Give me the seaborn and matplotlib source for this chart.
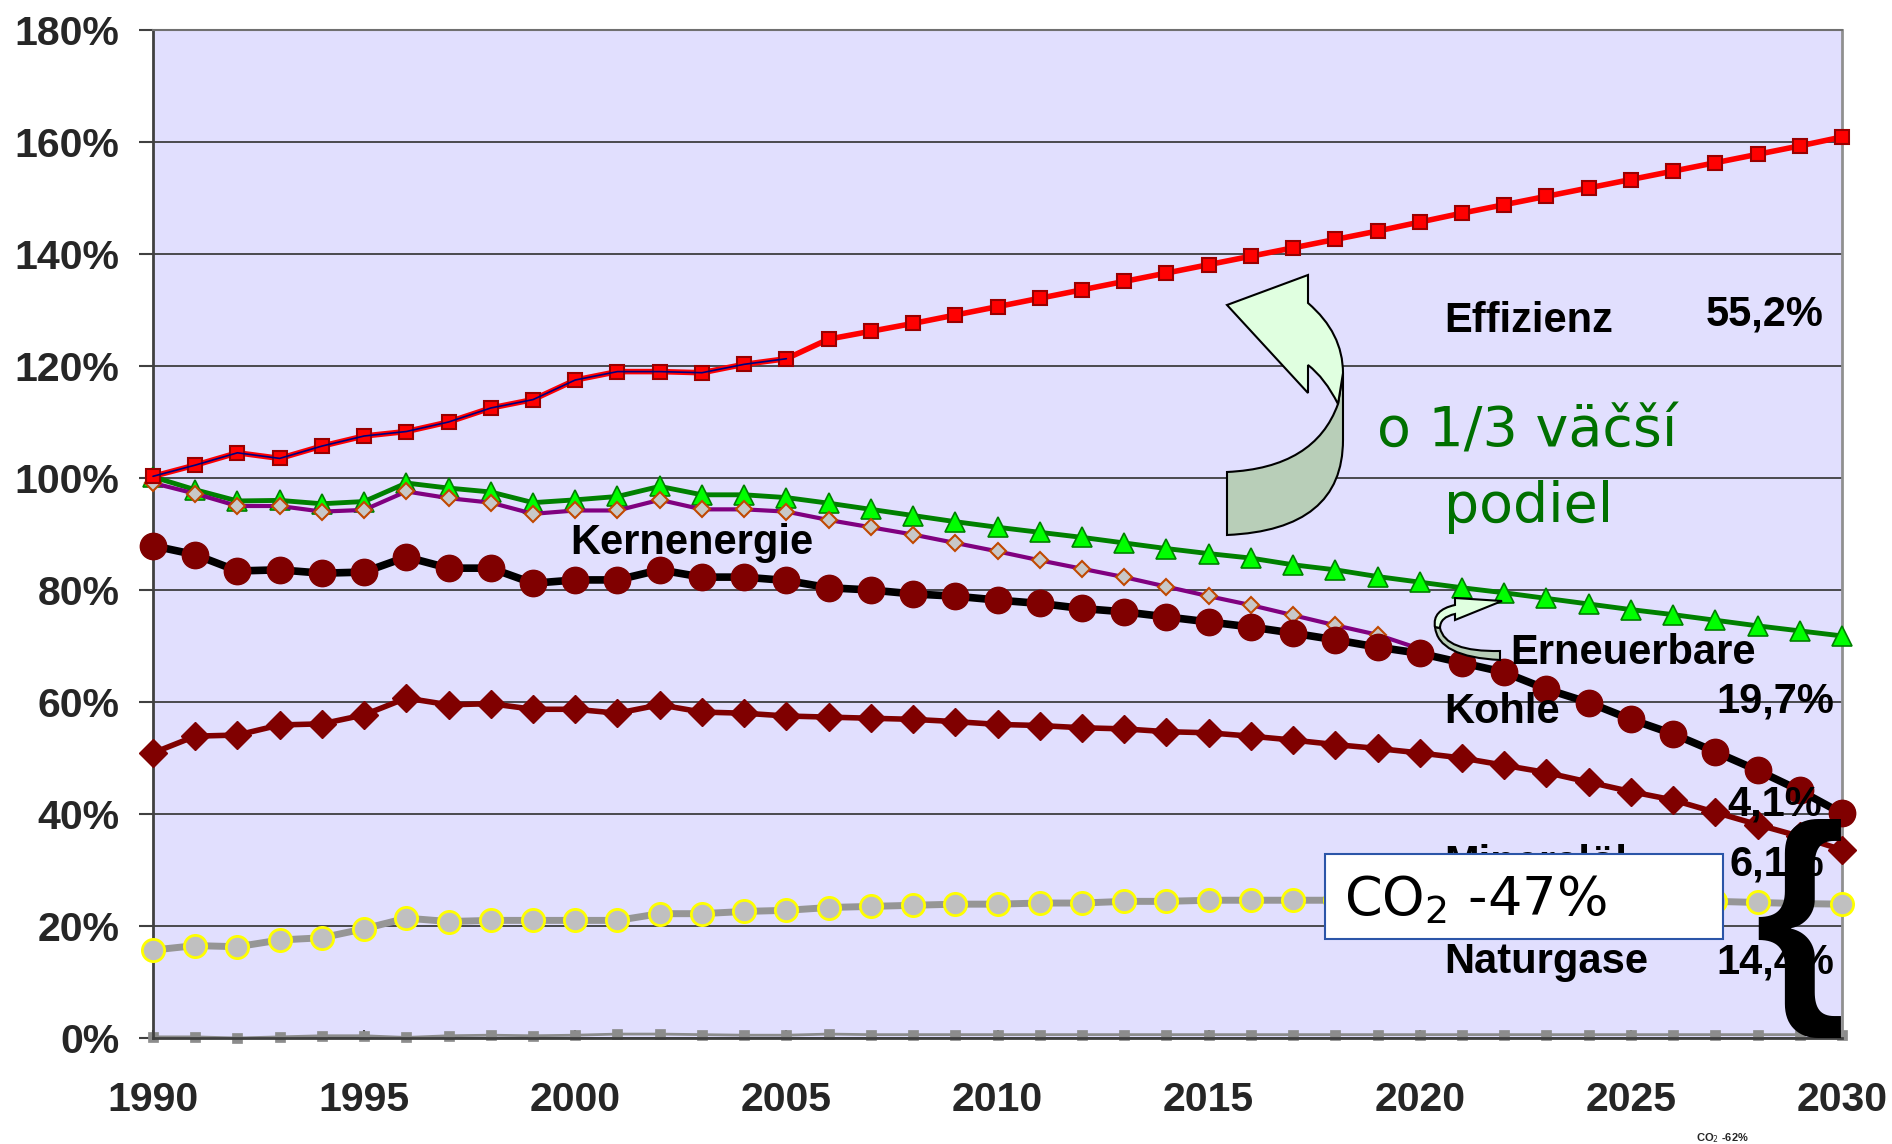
import seaborn as sns
from matplotlib import pyplot as plt
from matplotlib.patches import PathPatch, Rectangle
from matplotlib.path import Path

# === data (index 1990 = 100 %) ===
years = list(range(1990, 2031))

effizienz = [100.3, 102.3, 104.5, 103.5, 105.7, 107.5, 108.3, 110.0, 112.5, 114.0,
             117.5, 119.0, 119.0, 118.8, 120.3, 121.3, 124.8, 126.2, 127.6, 129.1,
             130.6, 132.1, 133.6, 135.1, 136.6, 138.1, 139.6, 141.1, 142.6, 144.1,
             145.7, 147.3, 148.8, 150.3, 151.8, 153.3, 154.8, 156.3, 157.8, 159.3,
             160.9]
erneuerbare = [100.2, 97.9, 95.9, 96.0, 95.4, 95.8, 99.1, 98.2, 97.5, 95.6,
               96.1, 96.7, 98.5, 97.0, 97.0, 96.5, 95.5, 94.4, 93.3, 92.2,
               91.2, 90.3, 89.4, 88.4, 87.4, 86.5, 85.7, 84.5, 83.6, 82.4,
               81.4, 80.4, 79.5, 78.5, 77.5, 76.5, 75.6, 74.6, 73.6, 72.7,
               71.8]
# Kernenergie ends in 2020
kernenergie = [99.1, 97.2, 95.0, 95.0, 94.0, 94.3, 97.6, 96.4, 95.6, 93.6,
               94.2, 94.2, 96.1, 94.4, 94.4, 94.0, 92.5, 91.2, 89.9, 88.4,
               86.9, 85.3, 83.8, 82.3, 80.6, 78.9, 77.3, 75.5, 73.7, 72.0,
               69.5]
kohle = [87.9, 86.3, 83.4, 83.6, 83.0, 83.2, 85.9, 83.9, 83.9, 81.2,
         81.8, 81.8, 83.6, 82.3, 82.3, 81.7, 80.4, 80.0, 79.3, 78.9,
         78.2, 77.6, 76.7, 76.1, 75.2, 74.3, 73.4, 72.3, 71.1, 69.8,
         68.7, 67.0, 65.3, 62.3, 59.9, 56.9, 54.3, 51.1, 47.8, 44.2,
         40.1]
mineraloel = [50.9, 53.9, 54.1, 55.9, 56.1, 57.7, 60.7, 59.5, 59.7, 58.7,
              58.7, 58.0, 59.5, 58.2, 58.0, 57.5, 57.3, 57.1, 56.9, 56.5,
              56.0, 55.8, 55.4, 55.2, 54.7, 54.5, 53.9, 53.2, 52.4, 51.7,
              50.9, 50.0, 48.7, 47.4, 45.7, 44.0, 42.5, 40.3, 38.1, 36.0,
              33.6]
naturgase = [15.7, 16.5, 16.3, 17.5, 17.9, 19.5, 21.4, 20.8, 21.0, 21.0,
             21.0, 21.0, 22.2, 22.2, 22.6, 22.8, 23.3, 23.5, 23.7, 23.9,
             23.9, 24.1, 24.1, 24.4, 24.4, 24.6, 24.6, 24.6, 24.6, 24.6,
             24.6, 24.6, 24.6, 24.6, 24.5, 24.5, 24.5, 24.4, 24.2, 24.0,
             23.9]
sonstige = [0.2, 0.2, 0.0, 0.2, 0.4, 0.4, 0.1, 0.4, 0.5, 0.4,
            0.5, 0.7, 0.7, 0.6, 0.5, 0.5, 0.7, 0.6, 0.6, 0.6,
            0.6, 0.6, 0.6, 0.6, 0.6, 0.6, 0.6, 0.6, 0.6, 0.6,
            0.6, 0.6, 0.6, 0.6, 0.6, 0.6, 0.6, 0.6, 0.6, 0.6,
            0.6]

x_ticks = [1990, 1995, 2000, 2005, 2010, 2015, 2020, 2025, 2030]
y_ticks = [0, 20, 40, 60, 80, 100, 120, 140, 160, 180]
y_ticklabels = [f"{v}%" for v in y_ticks]

# right-hand labels: (name, share in 2030)
labels = [("Effizienz", "55,2%"), ("Erneuerbare", "19,7%"), ("Kohle", "4,1%"),
          ("Mineralöl", "6,1%"), ("Naturgase", "14,4%")]

# === figure ===
sns.set_theme(style="white")
plt.rcParams['font.family'] = ['Liberation Sans', 'DejaVu Sans']

W, H = 1892, 1144
fig = plt.figure(figsize=(W / 100, H / 100), dpi=100)
ax = fig.add_axes([153 / W, 1 - 1038 / H, 1689 / W, 1008 / H])
ax.set_facecolor('#E1DFFE')


def ref(points):
    # reference-image pixels -> figure fraction
    return [(x / W, 1 - y / H) for x, y in points]


# --- series ---
sns.lineplot(x=years, y=sonstige, ax=ax, color='#8C8C8C', linewidth=2,
             marker='s', markersize=7, markerfacecolor='#8C8C8C',
             markeredgecolor='#8C8C8C', markeredgewidth=0.5, clip_on=False, zorder=2)
sns.lineplot(x=years, y=naturgase, ax=ax, color='#969696', linewidth=5,
             marker='o', markersize=16, markerfacecolor='#C0C0C0',
             markeredgecolor='#FFFF00', markeredgewidth=2, clip_on=False, zorder=3)
sns.lineplot(x=years, y=mineraloel, ax=ax, color='#800000', linewidth=4,
             marker='D', markersize=14, markerfacecolor='#800000',
             markeredgecolor='#800000', markeredgewidth=1, clip_on=False, zorder=3)
sns.lineplot(x=years, y=erneuerbare, ax=ax, color='#008000', linewidth=3.5,
             marker='^', markersize=15, markerfacecolor='#00FF00',
             markeredgecolor='#008000', markeredgewidth=1.2, clip_on=False, zorder=4)
sns.lineplot(x=years[:len(kernenergie)], y=kernenergie, ax=ax, color='#800080',
             linewidth=3, marker='D', markersize=8, markerfacecolor='#C8C8C8',
             markeredgecolor='#C04800', markeredgewidth=1.5, clip_on=False, zorder=5)
sns.lineplot(x=years, y=kohle, ax=ax, color='black', linewidth=5.5,
             marker='o', markersize=19, markerfacecolor='#800000',
             markeredgecolor='#800000', markeredgewidth=1, clip_on=False, zorder=6)
sns.lineplot(x=years, y=effizienz, ax=ax, color='#FF0000', linewidth=4,
             marker='s', markersize=10, markerfacecolor='#FF0000',
             markeredgecolor='#990000', markeredgewidth=1.5, clip_on=False, zorder=6)
sns.lineplot(x=years[:16], y=effizienz[:16], ax=ax, color='#000080',
             linewidth=1.2, clip_on=False, zorder=6.5)

# --- axes styling ---
ax.set_xlim(1990, 2030)
ax.set_ylim(0, 180)
ax.set_xticks(x_ticks)
ax.set_xticklabels([str(v) for v in x_ticks])
ax.set_yticks(y_ticks)
ax.set_yticklabels(y_ticklabels)
ax.set_xlabel('')
ax.set_ylabel('')
ax.yaxis.grid(True, color='#303030', linewidth=1.2)
ax.xaxis.grid(False)
ax.set_axisbelow(True)
for lab in ax.get_xticklabels() + ax.get_yticklabels():
    lab.set_fontweight('bold')
    lab.set_fontsize(29.5)
ax.tick_params(axis='y', direction='out', length=10, width=1.5, color='#404040',
               pad=14, left=True)
ax.tick_params(axis='x', direction='in', length=6, width=1.5, color='#404040',
               pad=31, bottom=True)
ax.spines['left'].set_color('#404040')
ax.spines['left'].set_linewidth(2)
ax.spines['bottom'].set_color('#404040')
ax.spines['bottom'].set_linewidth(2)
ax.spines['right'].set_color('#909090')
ax.spines['right'].set_linewidth(2)
ax.spines['top'].set_color('#707070')
ax.spines['top'].set_linewidth(1.5)

# --- text labels ---
lab_kw = dict(fontsize=30, fontweight='bold', color='black', va='baseline', zorder=8)
name_pos = {"Effizienz": (2020.57, 126.1), "Erneuerbare": (2022.15, 66.8),
            "Kohle": (2020.57, 56.3), "Mineralöl": (2020.57, 29.1),
            "Naturgase": (2020.57, 11.6)}
value_pos = {"55,2%": (2029.57, 127.3), "19,7%": (2029.81, 58.2),
             "4,1%": (2029.53, 39.8), "6,1%": (2029.58, 29.1),
             "14,4%": (2029.81, 11.6)}
for name, share in labels:
    ax.text(*name_pos[name], name, ha='left', **lab_kw)
    ax.text(*value_pos[share], share, ha='right', **lab_kw)
ax.text(2002.76, 86.4, "Kernenergie", ha='center', **lab_kw)

ax.text(2022.55, 105.6, "o 1/3 väčší", ha='center', va='baseline', fontsize=40,
        color='#007000', family=['DejaVu Sans'], zorder=8)
ax.text(2022.58, 92.2, "podiel", ha='center', va='baseline', fontsize=40,
        color='#007000', family=['DejaVu Sans'], zorder=8)

# CO2 box
ax.add_patch(Rectangle((2017.76, 17.7), 9.42, 15.2, facecolor='white',
                       edgecolor='#2B55A8', linewidth=1.5, zorder=9, clip_on=False))
ax.text(2018.2, 22.0, r"CO$_2$ -47%", ha='left', va='baseline', fontsize=39,
        color='black', family=['DejaVu Sans'], zorder=10)

# big brace
ax.text(2029.0, 19.6, "{", ha='center', va='center', fontsize=168,
        fontweight='bold', color='black', zorder=11)

fig.text(1722 / W, 1 - 1138 / H, r"CO$_2$ -62%", ha='center', va='center',
         fontsize=8, fontweight='bold')

# --- curved arrows ---
M, L, C3, CL = Path.MOVETO, Path.LINETO, Path.CURVE3, Path.CLOSEPOLY
big_light = ref([(1308, 393), (1227, 305), (1308, 275), (1308, 303), (1343, 333),
                 (1343, 373), (1338, 404), (1325, 378), (1308, 365), (1308, 393)])
big_light_codes = [M, L, L, L, C3, C3, L, C3, C3, CL]
big_dark = ref([(1338, 404), (1343, 373), (1343, 440), (1343, 530), (1227, 535),
                (1227, 472), (1315, 468), (1338, 404), (1338, 404)])
big_dark_codes = [M, L, L, C3, C3, L, C3, C3, CL]
small_light = ref([(1455, 620), (1502, 601), (1455, 598), (1455, 605), (1432, 610),
                   (1435, 627), (1440, 628), (1440, 617), (1455, 614), (1455, 620)])
small_light_codes = [M, L, L, L, C3, C3, L, C3, C3, CL]
small_dark = ref([(1435, 627), (1438, 657), (1500, 660), (1500, 651), (1445, 652),
                  (1440, 628), (1440, 628)])
small_dark_codes = [M, C3, C3, L, C3, C3, CL]

for verts, codes, face in [(big_dark, big_dark_codes, '#B8CEB8'),
                           (big_light, big_light_codes, '#E0FFE0'),
                           (small_dark, small_dark_codes, '#B8CEB8'),
                           (small_light, small_light_codes, '#E0FFE0')]:
    fig.add_artist(PathPatch(Path(verts, codes), facecolor=face, edgecolor='black',
                             linewidth=1.5, transform=fig.transFigure, zorder=5))

fig.savefig('out.png', dpi=100)
